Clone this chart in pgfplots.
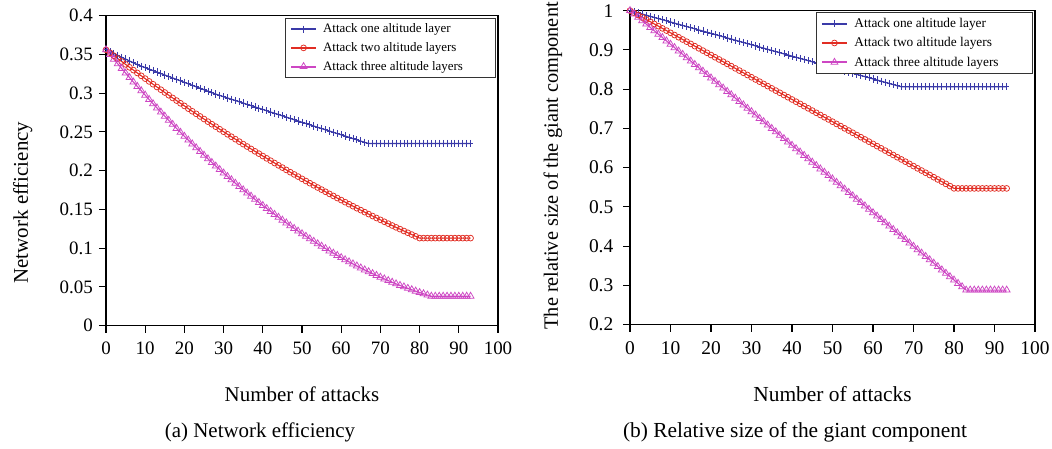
\documentclass[border=0pt]{standalone}
\usepackage{fontspec}
\setmainfont{Liberation Serif}
\usepackage{pgfplots}
\pgfplotsset{compat=1.18}
\definecolor{blueS}{RGB}{58,58,168}
\definecolor{redS}{RGB}{225,45,35}
\definecolor{magS}{RGB}{205,70,195}
\pgfplotsset{
  common/.style={
    scale only axis, anchor=south west,
    xmin=0, xmax=100, xtick={0,10,20,30,40,50,60,70,80,90,100},
    tick align=outside, xtick pos=left, ytick pos=left,
    major tick length=7bp,
    axis line style={line width=1.1bp, black},
    every tick/.style={black, line width=1.1bp},
    /pgf/number format/assume math mode=true,
    yticklabel style={/pgf/number format/fixed, /pgf/number format/precision=2},
    legend cell align=left,
    legend image code/.code={\draw[mark repeat=2,mark phase=2,##1,line width=2bp] plot coordinates {(0bp,0bp) (12.5bp,0bp) (25bp,0bp)};},
    xlabel={Number of attacks},
  },
  s1/.style={color=blueS, line width=1.2bp, mark=+, mark size=2.6bp, mark options={solid, yscale=1.4, line width=0.8bp}},
  s2/.style={color=redS, line width=1.1bp, mark=o, mark size=2.9bp, mark options={solid, line width=0.75bp}},
  s3/.style={color=magS, line width=1.1bp, mark=triangle, mark size=4bp, mark options={solid, line width=0.75bp}},
}
\begin{document}
\begin{tikzpicture}
\path[use as bounding box] (0bp,0bp) rectangle (1052bp,449bp);
% ---------------- left panel ----------------
\begin{axis}[common, at={(106bp,123.3bp)}, width=392bp, height=310bp,
  ymin=0, ymax=0.4, ytick={0,0.05,0.1,0.15,0.2,0.25,0.3,0.35,0.4},
  tick label style={font=\fontsize{19}{22}\selectfont},
  xticklabel style={anchor=base, yshift=-22bp},
  yticklabel style={anchor=east, inner sep=0pt, xshift=-6bp},
  xlabel style={font=\fontsize{21}{25}\selectfont, at={(axis description cs:0.5,0)}, anchor=base, yshift=-75.7bp},
  ylabel={Network efficiency},
  ylabel style={font=\fontsize{21}{25}\selectfont, at={(axis description cs:-0.199,0.125)}, anchor=base west},
  legend style={at={(axis description cs:1,1)}, anchor=north east, xshift=-2bp, yshift=-2.3bp,
    draw=black!80, line width=0.7bp, font=\fontsize{13}{15}\selectfont,
    inner xsep=4.7bp, inner ysep=1.5bp, column sep=4bp, nodes={inner xsep=2bp, inner ysep=4.1bp}},
]
\addplot[s1] coordinates {(0,0.356)(1,0.3536)(2,0.3512)(3,0.3488)(4,0.3464)(5,0.344)(6,0.3416)(7,0.3392)(8,0.3368)(9,0.3349)(10,0.333)(11,0.3311)(12,0.3292)(13,0.3273)(14,0.3254)(15,0.3235)(16,0.3216)(17,0.3197)(18,0.3178)(19,0.3159)(20,0.314)(21,0.3121)(22,0.3102)(23,0.3083)(24,0.3064)(25,0.3045)(26,0.3026)(27,0.3007)(28,0.2988)(29,0.2972)(30,0.2955)(31,0.2939)(32,0.2922)(33,0.2906)(34,0.2889)(35,0.2873)(36,0.2856)(37,0.284)(38,0.2823)(39,0.2807)(40,0.279)(41,0.2774)(42,0.2757)(43,0.2741)(44,0.2724)(45,0.2708)(46,0.2691)(47,0.2675)(48,0.2658)(49,0.2642)(50,0.2625)(51,0.2609)(52,0.2593)(53,0.2576)(54,0.256)(55,0.2544)(56,0.2528)(57,0.2512)(58,0.2495)(59,0.2479)(60,0.2463)(61,0.2447)(62,0.2431)(63,0.2414)(64,0.2398)(65,0.2382)(66,0.2366)(67,0.235)(68,0.235)(69,0.235)(70,0.235)(71,0.235)(72,0.235)(73,0.235)(74,0.235)(75,0.235)(76,0.235)(77,0.235)(78,0.235)(79,0.235)(80,0.235)(81,0.235)(82,0.235)(83,0.235)(84,0.235)(85,0.235)(86,0.235)(87,0.235)(88,0.235)(89,0.235)(90,0.235)(91,0.235)(92,0.235)(93,0.235)};
\addlegendentry{Attack one altitude layer}
\addplot[s2] coordinates {(0,0.356)(1,0.3522)(2,0.3484)(3,0.3446)(4,0.3409)(5,0.3372)(6,0.3334)(7,0.3298)(8,0.3261)(9,0.3224)(10,0.3188)(11,0.3152)(12,0.3116)(13,0.308)(14,0.3045)(15,0.3009)(16,0.2974)(17,0.2939)(18,0.2905)(19,0.287)(20,0.2836)(21,0.2801)(22,0.2767)(23,0.2734)(24,0.27)(25,0.2667)(26,0.2633)(27,0.26)(28,0.2568)(29,0.2535)(30,0.2503)(31,0.247)(32,0.2438)(33,0.2407)(34,0.2375)(35,0.2343)(36,0.2312)(37,0.2281)(38,0.225)(39,0.222)(40,0.2189)(41,0.2159)(42,0.2129)(43,0.2099)(44,0.2069)(45,0.204)(46,0.201)(47,0.1981)(48,0.1952)(49,0.1924)(50,0.1895)(51,0.1867)(52,0.1839)(53,0.1811)(54,0.1783)(55,0.1756)(56,0.1728)(57,0.1701)(58,0.1674)(59,0.1647)(60,0.1621)(61,0.1594)(62,0.1568)(63,0.1542)(64,0.1516)(65,0.1491)(66,0.1465)(67,0.144)(68,0.1415)(69,0.139)(70,0.1366)(71,0.1341)(72,0.1317)(73,0.1293)(74,0.1269)(75,0.1246)(76,0.1222)(77,0.1199)(78,0.1176)(79,0.1153)(80,0.113)(81,0.113)(82,0.113)(83,0.113)(84,0.113)(85,0.113)(86,0.113)(87,0.113)(88,0.113)(89,0.113)(90,0.113)(91,0.113)(92,0.113)(93,0.113)};
\addlegendentry{Attack two altitude layers}
\addplot[s3] coordinates {(0,0.356)(1,0.3499)(2,0.3438)(3,0.3379)(4,0.3319)(5,0.326)(6,0.3202)(7,0.3144)(8,0.3087)(9,0.3031)(10,0.2975)(11,0.2919)(12,0.2864)(13,0.281)(14,0.2756)(15,0.2703)(16,0.265)(17,0.2598)(18,0.2546)(19,0.2495)(20,0.2444)(21,0.2395)(22,0.2345)(23,0.2296)(24,0.2248)(25,0.22)(26,0.2153)(27,0.2106)(28,0.206)(29,0.2015)(30,0.197)(31,0.1925)(32,0.1882)(33,0.1838)(34,0.1796)(35,0.1753)(36,0.1712)(37,0.1671)(38,0.163)(39,0.159)(40,0.1551)(41,0.1512)(42,0.1474)(43,0.1436)(44,0.1399)(45,0.1362)(46,0.1326)(47,0.129)(48,0.1255)(49,0.1221)(50,0.1187)(51,0.1154)(52,0.1121)(53,0.1089)(54,0.1057)(55,0.1026)(56,0.0995)(57,0.0965)(58,0.0936)(59,0.0907)(60,0.0879)(61,0.0851)(62,0.0824)(63,0.0797)(64,0.0771)(65,0.0745)(66,0.072)(67,0.0696)(68,0.0672)(69,0.0649)(70,0.0626)(71,0.0604)(72,0.0582)(73,0.0561)(74,0.054)(75,0.052)(76,0.0501)(77,0.0482)(78,0.0464)(79,0.0446)(80,0.0428)(81,0.0412)(82,0.0396)(83,0.038)(84,0.038)(85,0.038)(86,0.038)(87,0.038)(88,0.038)(89,0.038)(90,0.038)(91,0.038)(92,0.038)(93,0.038)};
\addlegendentry{Attack three altitude layers\kern26bp}
\end{axis}
% ---------------- right panel ----------------
\begin{axis}[common, at={(630bp,124.4bp)}, width=405bp, height=314bp,
  ymin=0.2, ymax=1, ytick={0.2,0.3,0.4,0.5,0.6,0.7,0.8,0.9,1},
  tick label style={font=\fontsize{19.5}{22}\selectfont},
  xticklabel style={anchor=base, yshift=-23.4bp},
  yticklabel style={anchor=east, inner sep=0pt, xshift=-9.5bp},
  xlabel style={font=\fontsize{21.5}{25}\selectfont, at={(axis description cs:0.5,0)}, anchor=base, yshift=-77bp},
  ylabel={The relative size of the giant component},
  ylabel style={font=\fontsize{20.4}{25}\selectfont, at={(axis description cs:-0.178,-0.027)}, anchor=base west},
  legend style={at={(axis description cs:1,1)}, anchor=north east, xshift=-2.3bp, yshift=-1.5bp,
    draw=black!80, line width=0.7bp, font=\fontsize{13.4}{15}\selectfont,
    inner xsep=4.7bp, inner ysep=1.5bp, column sep=4.5bp, nodes={inner xsep=2bp, inner ysep=4.3bp}},
]
\addplot[s1] coordinates {(0,1)(1,0.9971)(2,0.9942)(3,0.9913)(4,0.9884)(5,0.9855)(6,0.9826)(7,0.9797)(8,0.9768)(9,0.9739)(10,0.971)(11,0.9681)(12,0.9652)(13,0.9623)(14,0.9594)(15,0.9565)(16,0.9536)(17,0.9507)(18,0.9478)(19,0.9449)(20,0.942)(21,0.9391)(22,0.9362)(23,0.9333)(24,0.9304)(25,0.9275)(26,0.9246)(27,0.9217)(28,0.9188)(29,0.9159)(30,0.913)(31,0.9101)(32,0.9072)(33,0.9043)(34,0.9014)(35,0.8985)(36,0.8956)(37,0.8927)(38,0.8898)(39,0.8869)(40,0.884)(41,0.8811)(42,0.8782)(43,0.8753)(44,0.8724)(45,0.8695)(46,0.8666)(47,0.8637)(48,0.8608)(49,0.8579)(50,0.855)(51,0.8521)(52,0.8492)(53,0.8463)(54,0.8434)(55,0.8405)(56,0.8376)(57,0.8347)(58,0.8318)(59,0.8289)(60,0.826)(61,0.8231)(62,0.8202)(63,0.8173)(64,0.8144)(65,0.8115)(66,0.8086)(67,0.806)(68,0.806)(69,0.806)(70,0.806)(71,0.806)(72,0.806)(73,0.806)(74,0.806)(75,0.806)(76,0.806)(77,0.806)(78,0.806)(79,0.806)(80,0.806)(81,0.806)(82,0.806)(83,0.806)(84,0.806)(85,0.806)(86,0.806)(87,0.806)(88,0.806)(89,0.806)(90,0.806)(91,0.806)(92,0.806)(93,0.806)};
\addlegendentry{Attack one altitude layer}
\addplot[s2] coordinates {(0,1)(1,0.9943)(2,0.9887)(3,0.983)(4,0.9774)(5,0.9717)(6,0.966)(7,0.9604)(8,0.9547)(9,0.9491)(10,0.9434)(11,0.9377)(12,0.9321)(13,0.9264)(14,0.9208)(15,0.9151)(16,0.9094)(17,0.9038)(18,0.8981)(19,0.8925)(20,0.8868)(21,0.8811)(22,0.8755)(23,0.8698)(24,0.8642)(25,0.8585)(26,0.8528)(27,0.8472)(28,0.8415)(29,0.8359)(30,0.8302)(31,0.8245)(32,0.8189)(33,0.8132)(34,0.8076)(35,0.8019)(36,0.7962)(37,0.7906)(38,0.7849)(39,0.7793)(40,0.7736)(41,0.7679)(42,0.7623)(43,0.7566)(44,0.751)(45,0.7453)(46,0.7396)(47,0.734)(48,0.7283)(49,0.7227)(50,0.717)(51,0.7113)(52,0.7057)(53,0.7)(54,0.6944)(55,0.6887)(56,0.683)(57,0.6774)(58,0.6717)(59,0.6661)(60,0.6604)(61,0.6547)(62,0.6491)(63,0.6434)(64,0.6378)(65,0.6321)(66,0.6264)(67,0.6208)(68,0.6151)(69,0.6095)(70,0.6038)(71,0.5981)(72,0.5925)(73,0.5868)(74,0.5812)(75,0.5755)(76,0.5698)(77,0.5642)(78,0.5585)(79,0.5529)(80,0.5472)(81,0.547)(82,0.547)(83,0.547)(84,0.547)(85,0.547)(86,0.547)(87,0.547)(88,0.547)(89,0.547)(90,0.547)(91,0.547)(92,0.547)(93,0.547)};
\addlegendentry{Attack two altitude layers}
\addplot[s3] coordinates {(0,1)(1,0.9914)(2,0.9828)(3,0.9743)(4,0.9657)(5,0.9571)(6,0.9485)(7,0.9399)(8,0.9314)(9,0.9228)(10,0.9142)(11,0.9056)(12,0.897)(13,0.8885)(14,0.8799)(15,0.8713)(16,0.8627)(17,0.8541)(18,0.8456)(19,0.837)(20,0.8284)(21,0.8198)(22,0.8112)(23,0.8027)(24,0.7941)(25,0.7855)(26,0.7769)(27,0.7683)(28,0.7598)(29,0.7512)(30,0.7426)(31,0.734)(32,0.7254)(33,0.7169)(34,0.7083)(35,0.6997)(36,0.6911)(37,0.6825)(38,0.674)(39,0.6654)(40,0.6568)(41,0.6482)(42,0.6396)(43,0.6311)(44,0.6225)(45,0.6139)(46,0.6053)(47,0.5967)(48,0.5882)(49,0.5796)(50,0.571)(51,0.5624)(52,0.5538)(53,0.5453)(54,0.5367)(55,0.5281)(56,0.5195)(57,0.5109)(58,0.5024)(59,0.4938)(60,0.4852)(61,0.4766)(62,0.468)(63,0.4595)(64,0.4509)(65,0.4423)(66,0.4337)(67,0.4251)(68,0.4166)(69,0.408)(70,0.3994)(71,0.3908)(72,0.3822)(73,0.3737)(74,0.3651)(75,0.3565)(76,0.3479)(77,0.3393)(78,0.3308)(79,0.3222)(80,0.3136)(81,0.305)(82,0.2964)(83,0.2879)(84,0.288)(85,0.288)(86,0.288)(87,0.288)(88,0.288)(89,0.288)(90,0.288)(91,0.288)(92,0.288)(93,0.288)};
\addlegendentry{Attack three altitude layers\kern27bp}
\end{axis}
\node[anchor=base, font=\fontsize{21}{25}\selectfont] at (260bp,12bp) {(a) Network efficiency};
\node[anchor=base, font=\fontsize{21.5}{25}\selectfont] at (795bp,12bp) {(b) Relative size of the giant component};
\end{tikzpicture}
\end{document}
